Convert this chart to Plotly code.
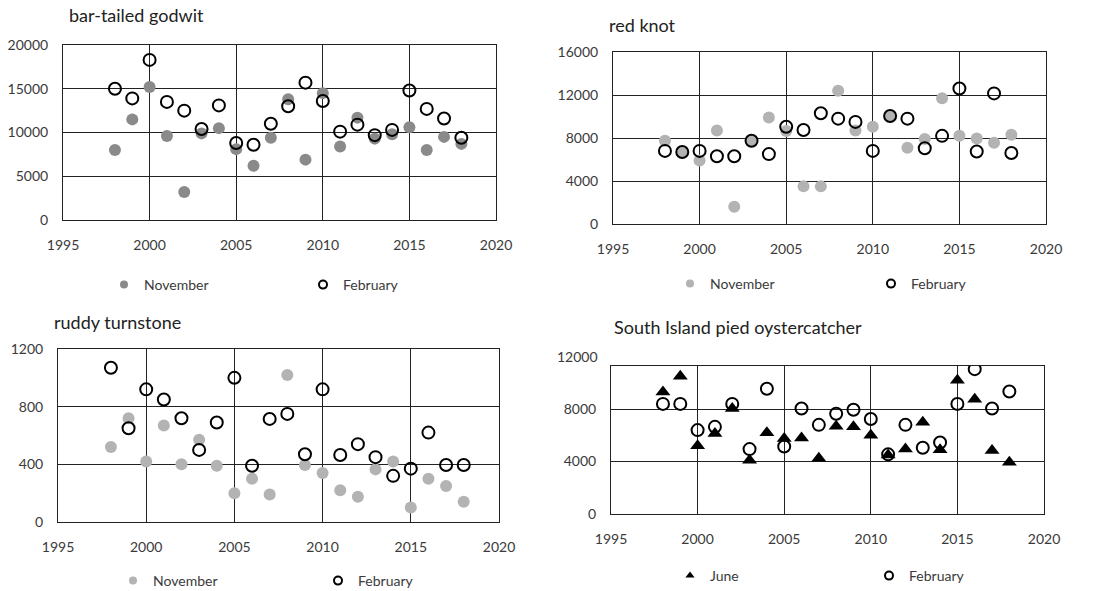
import plotly.graph_objects as go

# ---------------- data ----------------
years = list(range(1998, 2019))

godwit_nov = [8000, 11500, 15200, 9600, 3200, 9900, 10500, 8100, 6200, 9400, 13800,
              6900, 14500, 8400, 11700, 9300, 9800, 10600, 8000, 9500, 8700]
godwit_feb = [15000, 13900, 18300, 13500, 12500, 10400, 13100, 8800, 8600, 11000, 13000,
              15700, 13600, 10100, 10900, 9700, 10300, 14800, 12700, 11600, 9400]

knot_nov = [7750, 6700, 5900, 8700, 1600, 7750, 9900, 8650, 3500, 3500, 12400,
            8700, 9050, 10050, 7100, 7900, 11700, 8200, 7950, 7550, 8300]
knot_feb = [6800, 6700, 6800, 6300, 6300, 7750, 6500, 9050, 8750, 10300, 9800,
            9500, 6800, 10050, 9800, 7050, 8200, 12600, 6750, 12150, 6600]

turnstone_nov = [520, 720, 420, 670, 400, 570, 390, 200, 300, 190, 1020,
                 395, 340, 220, 175, 365, 420, 100, 300, 250, 140]
turnstone_feb = [1070, 650, 920, 850, 720, 500, 690, 1000, 390, 715, 750,
                 470, 920, 465, 540, 450, 320, 370, 620, 395, 395]

oyster_jun = [9300, 10500, 5200, 6150, 8050, 4100, 6200, 5750, 5800, 4250, 6700,
              6650, 6000, 4500, 4950, 7000, 4900, 10200, 8750, 4850, 3950]
oyster_feb = [8400, 8400, 6400, 6650, 8400, 4950, 9550, 5150, 8050, 6800, 7650,
              7950, 7250, 4550, 6800, 5050, 5450, 8400, 11050, 8050, 9350]

titles = ["bar-tailed godwit", "red knot", "ruddy turnstone", "South Island pied oystercatcher"]
x_ticks = [1995, 2000, 2005, 2010, 2015, 2020]

# ---------------- layout geometry (pixels) ----------------
W, H = 1095, 591
FONT = "Lato"
TXT = "#3a3a3a"
LINE = "#222222"

panels = [
    dict(box=(63, 496, 45, 220), yr=[0, 20000], yt=[0, 5000, 10000, 15000, 20000]),
    dict(box=(613, 1046, 52, 224), yr=[0, 16000], yt=[0, 4000, 8000, 12000, 16000]),
    dict(box=(58, 499, 349, 522), yr=[0, 1200], yt=[0, 400, 800, 1200]),
    dict(box=(611, 1044, 366, 514), yr=[0, 11290], yt=[0, 4000, 8000, 12000]),
]
title_pos = [(67, 15), (607, 25), (52, 322), (612, 327)]
legend_pos = [(104, 285), (670, 284), (113, 581), (670, 576)]
legend_w = [154, 156, 160, 154]

series = [
    (godwit_nov, godwit_feb, "November", "#8a8a8a", "circle"),
    (knot_nov, knot_feb, "November", "#b3b3b3", "circle"),
    (turnstone_nov, turnstone_feb, "November", "#b3b3b3", "circle"),
    (oyster_jun, oyster_feb, "June", "#000000", "triangle-up"),
]

fig = go.Figure()
layout = dict(
    width=W, height=H, margin=dict(l=0, r=0, t=0, b=0, autoexpand=False),
    paper_bgcolor="white", plot_bgcolor="white",
    font=dict(family=FONT, size=14, color=TXT),
    annotations=[],
)

for i, (p, s) in enumerate(zip(panels, series)):
    n = "" if i == 0 else str(i + 1)
    xa, ya = "x" + n, "y" + n
    leg = "legend" + n
    l, r, t, b = p["box"]
    layout["xaxis" + n] = dict(
        domain=[l / W, r / W], range=[1995, 2020], tickvals=x_ticks, tickformat="d",
        anchor=ya, showgrid=True, gridcolor=LINE, gridwidth=1,
        showline=True, mirror=True, linecolor=LINE, linewidth=1,
        zeroline=False, ticks="", ticklabelstandoff=12, automargin=False,
        tickfont=dict(family=FONT, size=14, color=TXT), fixedrange=True,
    )
    layout["yaxis" + n] = dict(
        domain=[1 - b / H, 1 - t / H], range=p["yr"], tickvals=p["yt"], tickformat="d",
        anchor=xa, showgrid=True, gridcolor=LINE, gridwidth=1,
        showline=True, mirror=True, linecolor=LINE, linewidth=1,
        zeroline=False, ticks="", ticklabelstandoff=11, automargin=False,
        tickfont=dict(family=FONT, size=14, color=TXT), fixedrange=True,
    )
    first, feb, name1, col1, sym1 = s
    fsize = 13 if sym1 == "triangle-up" else 12
    fig.add_trace(go.Scatter(
        x=years, y=first, mode="markers", xaxis=xa, yaxis=ya, showlegend=False,
        marker=dict(symbol=sym1, size=fsize, color=col1, line=dict(width=0)),
        hoverinfo="skip"))
    fig.add_trace(go.Scatter(
        x=years, y=feb, mode="markers", xaxis=xa, yaxis=ya, showlegend=False,
        marker=dict(symbol="circle-open", size=12, color="#000000", line=dict(width=2)),
        hoverinfo="skip"))
    # legend entries (small symbols as in the reference)
    fig.add_trace(go.Scatter(
        x=[None], y=[None], mode="markers", xaxis=xa, yaxis=ya, name=name1, legend=leg,
        marker=dict(symbol=sym1, size=8, color=col1, line=dict(width=0))))
    fig.add_trace(go.Scatter(
        x=[None], y=[None], mode="markers", xaxis=xa, yaxis=ya, name="February", legend=leg,
        marker=dict(symbol="circle-open", size=8, color="#000000", line=dict(width=2))))
    lx, ly = legend_pos[i]
    layout[leg] = dict(
        orientation="h", x=lx / W, y=1 - ly / H, xanchor="left", yanchor="middle",
        entrywidth=legend_w[i], entrywidthmode="pixels",
        font=dict(family=FONT, size=14, color=TXT), bgcolor="rgba(0,0,0,0)",
        itemsizing="trace", itemclick=False, itemdoubleclick=False,
    )
    tx, ty = title_pos[i]
    layout["annotations"].append(dict(
        text=titles[i], xref="paper", yref="paper", x=tx / W, y=1 - ty / H,
        xanchor="left", yanchor="middle", showarrow=False,
        font=dict(family=FONT, size=18, color="#222222")))

# 12000 label for the oystercatcher panel (its frame top sits just below 12000)
p4 = panels[3]
layout["annotations"].append(dict(
    text="12000", xref="paper", yref="paper", x=p4["box"][0] / W,
    y=1 - (p4["box"][3] - (p4["box"][3] - p4["box"][2]) * 12000 / p4["yr"][1]) / H,
    xanchor="right", yanchor="middle", xshift=-11, showarrow=False,
    font=dict(family=FONT, size=14, color=TXT)))

fig.update_layout(**layout)
fig.write_html("out.html", config={"displayModeBar": False},
               post_script="document.body.style.margin='0px';document.body.style.overflow='hidden';")
